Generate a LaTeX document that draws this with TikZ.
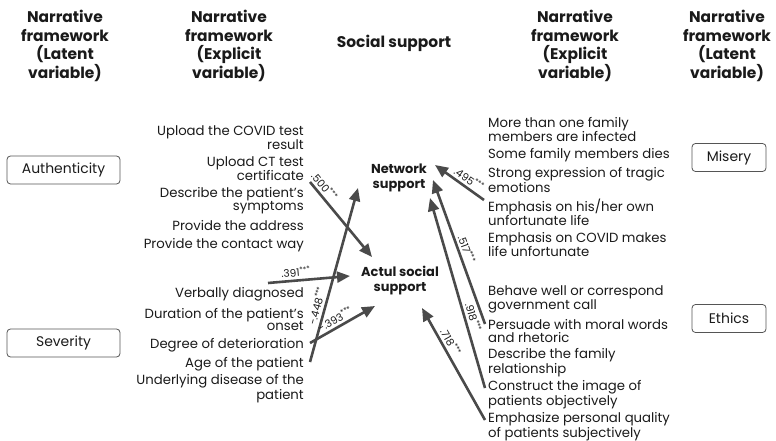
\documentclass[tikz,border=0pt]{standalone}
\usepackage{fontspec}
\setmainfont{Poppins}
\usetikzlibrary{arrows.meta,calc}
\definecolor{txt}{HTML}{1A1A1A}
\definecolor{arr}{HTML}{4A4A4A}
\definecolor{boxgray}{HTML}{555555}
\tikzset{
  head/.style={font=\fontsize{15.5}{18.7}\selectfont\bfseries, align=center, text=txt},
  item/.style={font=\fontsize{13.3}{13}\selectfont, inner sep=0pt, text=txt},
  litem/.style={item, anchor=east, align=right},
  ritem/.style={item, anchor=west, align=left},
  latent/.style={draw=boxgray, rounded corners=3.5bp, line width=0.8bp, minimum height=28bp, font=\fontsize{14}{15}\selectfont, text=txt},
  support/.style={font=\fontsize{13}{15}\selectfont\bfseries, align=center, text=txt},
  path/.style={draw=arr, line width=2.6bp, -{Triangle[length=13bp,width=11bp]}},
  coef/.style={font=\fontsize{10.5}{11}\selectfont, sloped, above, inner sep=2.5bp, text=txt}
}
\begin{document}
\begin{tikzpicture}[x=1bp,y=-1bp]
\useasboundingbox (0,0) rectangle (776,441);
\node[head] (h1) at (65,46) {Narrative\\framework\\(Latent\\variable)};
\node[head] (h2) at (229,46) {Narrative\\framework\\(Explicit\\variable)};
\node[head] (h3) at (394,43) {Social support};
\node[head] (h4) at (575,46) {Narrative\\framework\\(Explicit\\variable)};
\node[head] (h5) at (727,46) {Narrative\\framework\\(Latent\\variable)};

\node[latent, minimum width=113bp] (auth) at (63.5,170) {Authenticity};
\node[latent, minimum width=113bp] (sev) at (63.5,343) {Severity};
\node[latent, minimum width=74bp] (mis) at (729,157.5) {Misery};
\node[latent, minimum width=74bp] (eth) at (729,318.5) {Ethics};

\node[support] (ns) at (399,178) {Network\\support};
\node[support] (as) at (400,281) {Actul social\\support};

\node[litem] (covid) at (304,137.5) {Upload the COVID test\\result};
\node[litem] (ct) at (304,168.5) {Upload CT test\\certificate};
\node[litem] (symp) at (304,200.5) {Describe the patient's\\symptoms};
\node[litem] (addr) at (304,226) {Provide the address};
\node[litem] (way) at (304,245) {Provide the contact way};
\node[litem] (verb) at (304,294) {Verbally diagnosed};
\node[litem] (dur) at (304,319.5) {Duration of the patient's\\onset};
\node[litem] (deg) at (304,345) {Degree of deterioration};
\node[litem] (age) at (304,364) {Age of the patient};
\node[litem] (und) at (304,388.5) {Underlying disease of the\\patient};

\node[ritem] (infect) at (488,129.5) {More than one family\\members are infected};
\node[ritem] (dies) at (488,155) {Some family members dies};
\node[ritem] (tragic) at (488,180) {Strong expression of tragic\\emotions};
\node[ritem] (own) at (488,212.5) {Emphasis on his/her own\\unfortunate life};
\node[ritem] (makes) at (488,244.5) {Emphasis on COVID makes\\life unfortunate};
\node[ritem] (behave) at (488,299.5) {Behave well or correspond\\government call};
\node[ritem] (moral) at (488,331) {Persuade with moral words\\and rhetoric};
\node[ritem] (family) at (488,362.5) {Describe the family\\relationship};
\node[ritem] (objective) at (488,394.5) {Construct the image of\\patients objectively};
\node[ritem] (subjective) at (488,426.5) {Emphasize personal quality\\of patients subjectively};

\draw[path] ($(ct.east)+(6,13.5)$) -- node[coef, pos=0.13] {.500\textsuperscript{***}} ($(as.center)+(-28,-24)$);
\draw[path] ($(age.east)+(6,-2)$) -- node[coef, pos=0.31] {-.448\textsuperscript{***}} ($(ns.center)+(-41,10)$);
\draw[path] ($(verb.east)+(-36,-11)$) -- node[coef, pos=0.35] {.391\textsuperscript{***}} ($(as.center)+(-50,-5)$);
\draw[path] ($(deg.east)+(6,-2)$) -- node[coef, pos=0.45] {-.393\textsuperscript{***}} ($(as.center)+(-25,25)$);
\draw[path] ($(own.west)+(-4,-12.5)$) -- node[coef, pos=0.4] {.495\textsuperscript{***}} ($(ns.center)+(36,-13)$);
\draw[path] ($(moral.west)+(-3,-7)$) -- node[coef, pos=0.5] {.517\textsuperscript{***}} ($(ns.center)+(34,2)$);
\draw[path] ($(objective.west)+(-3,-6.5)$) -- node[coef, pos=0.36] {.918\textsuperscript{***}} ($(ns.center)+(31,20)$);
\draw[path] ($(subjective.west)+(-3,-6.5)$) -- node[coef, pos=0.66] {.718\textsuperscript{***}} ($(as.center)+(22,27)$);
\end{tikzpicture}
\end{document}
